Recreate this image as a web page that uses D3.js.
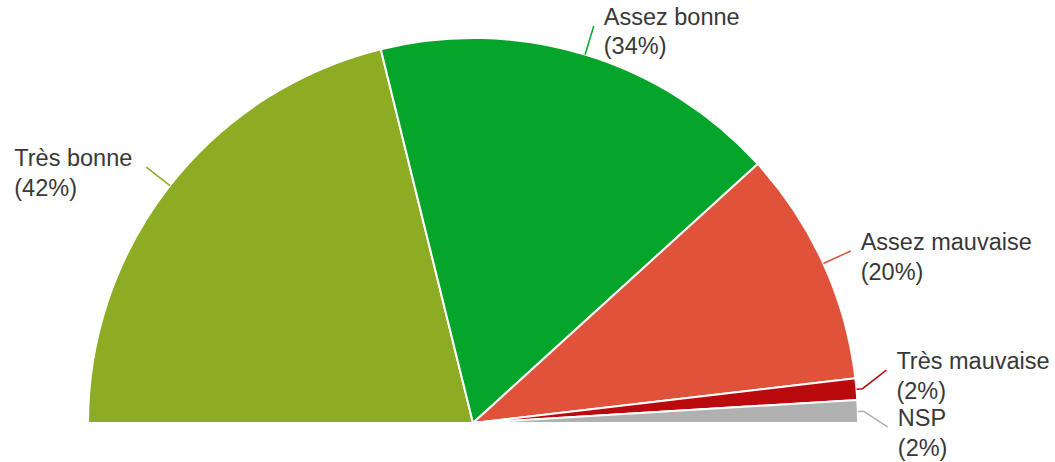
<!DOCTYPE html>
<html>
<head>
<meta charset="utf-8">
<script src="https://cdn.jsdelivr.net/npm/d3@7"></script>
<style>
  body { margin: 0; background: #fff; }
  svg { display: block; }
</style>
</head>
<body>
<div class="chart"></div>
<script>
// data
const categories = ["Très bonne", "Assez bonne", "Assez mauvaise", "Très mauvaise", "NSP"];
const shares = [42.3, 34.2, 19.8, 1.8, 1.9];
const colors = ["#8cac24", "#05a52b", "#e0523a", "#bb0a0e", "#b1b1b1"];

const data = categories.map((c, i) => ({ name: c, value: shares[i], color: colors[i] }));

let width = 1055, height = 462,
    cx = 473, cy = 423,
    radius = 385,
    lineGap = 29.5,
    blockGap = 57;

let svg = d3.select(".chart").append("svg")
    .attr("width", width)
    .attr("height", height)
    .style("font-family", "Arial, 'Liberation Sans', sans-serif");

let g = svg.append("g").attr("transform", "translate(" + cx + "," + cy + ")");

let pie = d3.pie()
    .sort(null)
    .value(d => d.value)
    .startAngle(-Math.PI / 2)
    .endAngle(Math.PI / 2);

let arc = d3.arc().innerRadius(0).outerRadius(radius);
let arcs = pie(data);

g.selectAll(".slice")
    .data(arcs)
    .enter().append("path")
    .classed("slice", true)
    .attr("d", arc)
    .attr("fill", d => d.data.color)
    .attr("stroke", "#fff")
    .attr("stroke-width", 2);

// leader line points
let pt = (a, rr) => [rr * Math.sin(a), -rr * Math.cos(a)];
let labels = arcs.map(d => {
    let a = (d.startAngle + d.endAngle) / 2;
    let p0 = pt(a, radius), p1 = pt(a, radius + 6), p2 = pt(a, radius + 30);
    return { d: d, side: Math.sin(a) > 0 ? 1 : -1, p0: p0, p1: p1, ex: p2[0], ey: p2[1], ny: p2[1] };
});

// push apart labels that would overlap on the same side
[1, -1].forEach(side => {
    let list = labels.filter(l => l.side === side).sort((a, b) => a.ny - b.ny);
    let groups = list.map(l => [l]);
    let place = grp => {
        let mean = d3.mean(grp, l => l.ny);
        grp.forEach((l, k) => { l.ey = mean - (grp.length - 1) / 2 * blockGap + k * blockGap; });
    };
    let merged = true;
    while (merged) {
        merged = false;
        for (let i = 0; i < groups.length - 1; i++) {
            let a = groups[i], b = groups[i + 1];
            if (a[a.length - 1].ey + blockGap > b[0].ey) {
                groups.splice(i, 2, a.concat(b));
                place(groups[i]);
                merged = true;
                break;
            }
        }
    }
});

g.selectAll(".leader")
    .data(labels)
    .enter().append("polyline")
    .classed("leader", true)
    .attr("points", l => [l.p0, l.p1, [l.ex, l.ey]].map(p => p.join(",")).join(" "))
    .attr("fill", "none")
    .attr("stroke", l => l.d.data.color)
    .attr("stroke-width", 1.5);

let texts = g.selectAll(".label")
    .data(labels)
    .enter().append("text")
    .classed("label", true)
    .attr("fill", "#383838")
    .style("font-size", "23.5px");

texts.append("tspan")
    .attr("y", l => l.ey - 1)
    .text(l => l.d.data.name);
texts.append("tspan")
    .attr("y", l => l.ey - 1 + lineGap)
    .text(l => "(" + Math.round(l.d.data.value) + "%)");

texts.each(function (l) {
    let w = d3.max(d3.select(this).selectAll("tspan").nodes(), n => n.getComputedTextLength());
    let x = l.side > 0 ? l.ex + 10 : l.ex - 14 - w;
    d3.select(this).selectAll("tspan").attr("x", x);
});
</script>
</body>
</html>
